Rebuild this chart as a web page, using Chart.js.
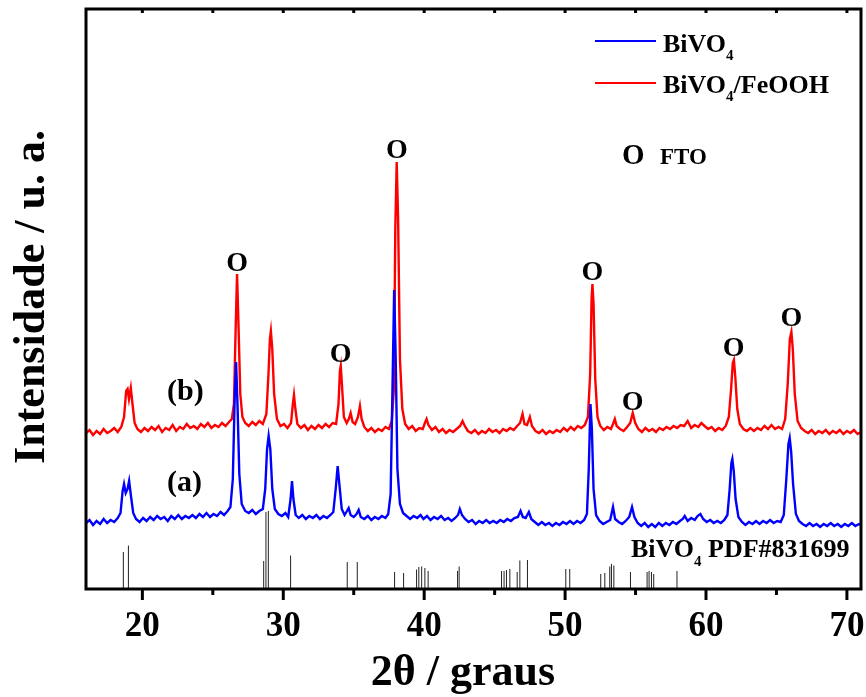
<!DOCTYPE html>
<html><head><meta charset="utf-8">
<script src="https://cdn.jsdelivr.net/npm/chart.js@4.4.0/dist/chart.umd.min.js"></script>
<style>html,body{margin:0;padding:0;background:#fff}canvas{display:block}</style>
</head><body>
<canvas id="c" width="866" height="697"></canvas>
<script>
// ---- axis ticks ----
const xTickValues = [20, 30, 40, 50, 60, 70];
const xMinorValues = [25, 35, 45, 55, 65];

// ---- (b) BiVO4/FeOOH : 2theta / intensity (a.u.) ----
const redX = [
16.00,16.25,16.50,16.75,17.00,17.25,17.50,17.75,18.00,18.25,
18.50,18.70,18.85,18.95,19.05,19.18,19.30,19.45,19.65,19.90,
20.15,20.40,20.65,20.90,21.15,21.40,21.65,21.90,22.15,22.40,
22.65,22.90,23.15,23.40,23.65,23.90,24.15,24.40,24.65,24.90,
25.15,25.40,25.65,25.90,26.15,26.35,26.50,26.62,26.72,26.82,
26.95,27.10,27.30,27.55,27.80,28.05,28.30,28.55,28.80,28.95,
29.05,29.12,29.22,29.35,29.55,29.80,30.05,30.30,30.55,30.68,
30.76,30.86,31.00,31.25,31.50,31.75,32.00,32.25,32.50,32.75,
33.00,33.25,33.50,33.75,33.92,34.02,34.08,34.16,34.30,34.50,
34.65,34.78,34.92,35.10,35.30,35.44,35.56,35.75,36.00,36.25,
36.50,36.75,37.00,37.25,37.50,37.70,37.85,37.95,38.05,38.15,
38.28,38.45,38.65,38.90,39.15,39.40,39.65,39.90,40.05,40.17,
40.30,40.55,40.80,41.05,41.30,41.55,41.80,42.05,42.30,42.55,
42.72,42.88,43.10,43.35,43.60,43.85,44.10,44.35,44.60,44.85,
45.10,45.35,45.60,45.85,46.10,46.35,46.60,46.80,46.98,47.12,
47.30,47.50,47.65,47.90,48.15,48.40,48.65,48.90,49.15,49.40,
49.65,49.90,50.15,50.40,50.65,50.90,51.15,51.40,51.62,51.78,
51.88,51.94,52.02,52.14,52.30,52.50,52.75,53.00,53.25,53.40,
53.53,53.66,53.90,54.15,54.40,54.62,54.80,54.98,55.20,55.45,
55.70,55.95,56.20,56.45,56.70,56.95,57.20,57.45,57.70,57.95,
58.20,58.45,58.70,58.95,59.20,59.45,59.67,59.90,60.15,60.40,
60.65,60.90,61.15,61.40,61.62,61.78,61.90,61.98,62.08,62.22,
62.40,62.65,62.90,63.15,63.40,63.65,63.90,64.15,64.40,64.65,
64.90,65.15,65.40,65.62,65.80,65.95,66.06,66.16,66.30,66.50,
66.75,67.00,67.25,67.50,67.75,68.00,68.25,68.50,68.75,69.00,
69.25,69.50,69.75,70.00,70.25,70.50,70.75,71.00];
const redY = [
156,159,154,158,155,160,156,158,161,157,
162,172,198,200,190,201,185,166,160,157,
161,158,162,159,163,157,161,159,164,158,
162,160,165,161,163,160,165,162,166,161,
164,162,166,163,167,170,185,260,315,265,
195,172,166,163,167,164,168,165,175,215,
250,258,240,195,170,163,165,161,166,185,
194,180,165,161,164,159,163,160,164,161,
165,162,166,165,185,218,223,205,172,166,
170,176,167,165,172,183,170,162,158,161,
157,160,158,162,160,168,200,360,427,370,
230,180,165,160,163,158,161,160,166,170,
164,159,162,157,160,156,159,157,160,163,
168,163,158,156,159,155,158,156,160,157,
159,156,160,158,161,159,163,166,175,165,
164,172,163,158,156,159,155,158,156,159,
157,161,158,162,159,163,161,164,172,215,
290,305,285,210,172,163,159,162,160,165,
170,163,160,158,162,166,176,166,160,157,
161,158,160,157,161,159,162,160,163,161,
164,163,168,161,164,162,166,163,160,162,
158,161,159,163,172,200,226,229,212,180,
165,160,158,161,158,161,159,163,160,164,
160,162,160,170,205,250,257,240,195,168,
161,158,156,159,155,158,156,159,155,158,
156,159,155,158,156,159,155,157];

// ---- (a) BiVO4 ----
const blueX = [
16.00,16.25,16.50,16.75,17.00,17.25,17.50,17.75,18.00,18.25,
18.45,18.60,18.70,18.82,18.95,19.06,19.20,19.35,19.55,19.80,
20.05,20.30,20.55,20.80,21.05,21.30,21.55,21.80,22.05,22.30,
22.55,22.80,23.05,23.30,23.55,23.80,24.05,24.30,24.55,24.80,
25.05,25.30,25.55,25.80,26.05,26.25,26.42,26.55,26.65,26.75,
26.88,27.05,27.30,27.55,27.80,28.05,28.30,28.55,28.72,28.85,
28.96,29.08,29.22,29.40,29.65,29.90,30.15,30.35,30.52,30.62,
30.72,30.88,31.10,31.35,31.60,31.85,32.10,32.35,32.60,32.85,
33.10,33.35,33.55,33.72,33.86,33.98,34.15,34.35,34.52,34.64,
34.78,35.00,35.20,35.35,35.50,35.75,36.00,36.25,36.50,36.75,
37.00,37.25,37.45,37.62,37.75,37.87,37.98,38.10,38.28,38.50,
38.75,39.00,39.25,39.50,39.74,39.95,40.20,40.45,40.70,40.95,
41.20,41.45,41.70,41.95,42.20,42.40,42.53,42.68,42.90,43.15,
43.40,43.65,43.90,44.15,44.40,44.65,44.90,45.15,45.40,45.65,
45.90,46.15,46.40,46.65,46.84,47.00,47.20,47.43,47.60,47.85,
48.10,48.35,48.60,48.85,49.10,49.35,49.60,49.85,50.10,50.35,
50.60,50.85,51.10,51.35,51.55,51.68,51.80,51.90,52.02,52.20,
52.45,52.70,52.95,53.20,53.40,53.55,53.80,54.05,54.30,54.55,
54.75,54.92,55.15,55.40,55.65,55.90,56.15,56.40,56.65,56.90,
57.15,57.40,57.65,57.90,58.15,58.35,58.49,58.70,58.95,59.20,
59.40,59.60,59.80,60.05,60.30,60.55,60.80,61.05,61.30,61.52,
61.68,61.80,61.87,61.97,62.10,62.30,62.55,62.80,63.05,63.30,
63.55,63.80,64.05,64.30,64.55,64.80,65.05,65.30,65.52,65.70,
65.85,65.94,66.04,66.18,66.38,66.60,66.85,67.10,67.35,67.60,
67.85,68.10,68.35,68.60,68.85,69.10,69.35,69.60,69.85,70.10,
70.35,70.60,70.85,71.00];
const blueY = [
66,69,64,68,65,70,66,69,67,71,
76,98,105,96,100,108,92,76,70,67,
71,68,72,69,73,70,72,68,73,70,
74,70,73,71,74,71,75,72,76,72,
75,73,77,74,78,82,110,190,227,185,
115,85,78,76,79,75,78,80,100,140,
153,140,100,80,75,73,76,72,90,108,
90,74,71,74,70,73,71,74,70,73,
71,74,77,100,123,105,80,74,78,81,
74,72,75,79,72,70,73,69,72,70,
73,71,75,95,200,299,230,120,85,76,
73,70,73,71,74,70,73,69,72,70,
73,69,71,68,71,74,80,74,70,67,
69,65,68,66,69,66,68,66,69,67,
70,68,71,72,78,72,71,77,70,67,
64,67,64,66,63,66,64,67,65,68,
65,68,66,69,75,120,185,160,100,74,
68,65,67,69,82,70,67,65,68,72,
82,72,66,63,66,62,65,62,66,63,
66,64,67,65,68,70,73,68,71,69,
73,75,70,67,69,66,68,66,69,74,
100,126,130,118,90,72,67,64,67,65,
68,65,68,66,69,66,68,67,74,110,
145,151,138,105,75,68,65,63,66,63,
65,62,65,63,66,63,65,62,65,63,
66,63,65,64];

// ---- BiVO4 PDF#831699 reference lines ----
const stickX = [18.65,19.01,28.61,28.77,28.94,30.52,34.54,35.25,37.90,38.54,
39.46,39.62,39.82,40.05,40.28,42.37,42.48,45.49,45.67,45.84,
46.08,46.60,46.79,47.33,50.05,50.33,52.53,52.82,53.17,53.29,
53.46,54.64,55.82,55.96,56.13,56.29,57.94];
const stickH = [37,43.5,28,77,78,33.5,27,27,17,16,
19.5,22,22.5,21,18,18,22.5,18,18,19,
20,17,28.5,29,20,20,15,16,22.5,25,
23.5,17,17,18,17,15,18];

// ---- FTO markers (peak position, label height) ----
const ftoX = [26.72, 34.07, 38.06, 51.94, 54.80, 61.96, 66.06];
const ftoLabelY = [318, 227, 431, 309, 179, 233, 263];

const SERIF = '"Liberation Serif","Times New Roman",serif';

function drawRich(ctx, parts, x, y, size, subSize, subDrop) {
  let cx = x;
  parts.forEach(p => {
    if (p.sub) {
      ctx.font = `bold ${subSize}px ${SERIF}`;
      ctx.fillText(p.t, cx, y + subDrop);
    } else {
      ctx.font = `bold ${size}px ${SERIF}`;
      ctx.fillText(p.t, cx, y);
    }
    cx += ctx.measureText(p.t).width;
  });
}

const decor = {
  id: 'decor',
  afterDraw(chart) {
    const {ctx, chartArea: a, scales: {x, y}} = chart;
    ctx.save();
    ctx.strokeStyle = '#000';
    ctx.fillStyle = '#000';
    ctx.lineWidth = 3;
    ctx.strokeRect(a.left, a.top, a.right - a.left, a.bottom - a.top);
    const ln = (x1, y1, x2, y2) => { ctx.beginPath(); ctx.moveTo(x1, y1); ctx.lineTo(x2, y2); ctx.stroke(); };
    xTickValues.forEach(v => { const px = x.getPixelForValue(v); ln(px, a.bottom, px, a.bottom + 11); ln(px, a.top, px, a.top + 4); });
    xMinorValues.forEach(v => { const px = x.getPixelForValue(v); ln(px, a.bottom, px, a.bottom + 6); ln(px, a.top, px, a.top + 4); });

    ctx.textAlign = 'center';
    ctx.textBaseline = 'alphabetic';
    ctx.font = `bold 35px ${SERIF}`;
    xTickValues.forEach(v => ctx.fillText(String(v), x.getPixelForValue(v), 636));

    ctx.font = `bold 44px ${SERIF}`;
    ctx.fillText('2\u03B8 / graus', 463, 685);

    ctx.save();
    ctx.translate(44, 297);
    ctx.rotate(-Math.PI / 2);
    ctx.fillText('Intensidade / u. a.', 0, 0);
    ctx.restore();

    // FTO markers
    ctx.font = `bold 28px ${SERIF}`;
    ftoX.forEach((v, i) => ctx.fillText('O', x.getPixelForValue(v), y.getPixelForValue(ftoLabelY[i])));

    // sample labels
    ctx.textAlign = 'left';
    ctx.font = `bold 30px ${SERIF}`;
    ctx.fillText('(b)', 167, 400);
    ctx.fillText('(a)', 167, 491);

    // legend
    ctx.lineWidth = 2;
    ctx.strokeStyle = '#0000ff';
    ln(595, 41, 656, 41);
    ctx.strokeStyle = '#ff0000';
    ln(595, 83, 656, 83);
    drawRich(ctx, [{t: 'BiVO'}, {t: '4', sub: true}], 663, 52, 26, 15, 8);
    drawRich(ctx, [{t: 'BiVO'}, {t: '4', sub: true}, {t: '/FeOOH'}], 663, 93, 26, 15, 8);

    ctx.font = `bold 29px ${SERIF}`;
    ctx.fillText('O', 622, 164);
    ctx.font = `bold 23px ${SERIF}`;
    ctx.fillText('FTO', 660, 164);

    drawRich(ctx, [{t: 'BiVO'}, {t: '4', sub: true}, {t: ' PDF#831699'}], 631, 557, 26, 15, 9);
    ctx.restore();
  }
};

const stickData = [];
stickX.forEach((v, i) => { stickData.push({x: v, y: 0}, {x: v, y: stickH[i]}, {x: v, y: null}); });

new Chart(document.getElementById('c').getContext('2d'), {
  type: 'line',
  data: {
    datasets: [
      {label: 'BiVO4', data: blueX.map((v, i) => ({x: v, y: blueY[i]})), borderColor: '#0000ff', borderWidth: 2.4, pointRadius: 0, tension: 0},
      {label: 'BiVO4/FeOOH', data: redX.map((v, i) => ({x: v, y: redY[i]})), borderColor: '#ff0000', borderWidth: 2.4, pointRadius: 0, tension: 0},
      {label: 'BiVO4 PDF#831699', data: stickData, borderColor: '#222', borderWidth: 1, pointRadius: 0, spanGaps: false, tension: 0}
    ]
  },
  options: {
    responsive: false, animation: false, devicePixelRatio: 1,
    layout: {padding: {top: 9, right: 5, left: 0, bottom: 0}},
    plugins: {legend: {display: false}, tooltip: {enabled: false}},
    scales: {
      x: {type: 'linear', min: 16, max: 71, grid: {display: false}, border: {display: false}, ticks: {display: false}, afterFit(s) { s.height = 108; }},
      y: {min: 0, max: 580, grid: {display: false}, border: {display: false}, ticks: {display: false}, afterFit(s) { s.width = 86; }}
    }
  },
  plugins: [decor]
});
</script>
</body></html>
